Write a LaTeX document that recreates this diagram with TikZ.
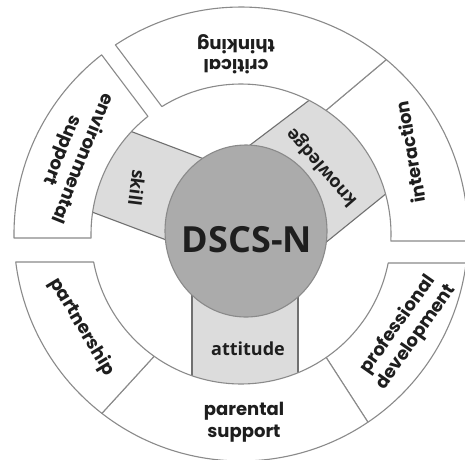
\documentclass[tikz,border=0pt]{standalone}
\usepackage{fontspec}
\setmainfont{Open Sans}
\newfontfamily\popfont{Poppins}
\usetikzlibrary{shapes.geometric}
\definecolor{lineg}{HTML}{8A8A8A}
\definecolor{darkline}{HTML}{707070}
\definecolor{spokeg}{HTML}{DCDCDC}
\definecolor{coreg}{HTML}{ABABAB}
\definecolor{txt}{HTML}{1E1E1E}
\tikzset{
  segbox/.style={draw=lineg, line width=1.1pt, fill=white, line join=round},
  spokebox/.style={draw=darkline, line width=1.1pt, fill=spokeg},
  corebox/.style={ellipse, draw=lineg, line width=1.1pt, fill=coreg, minimum width=162pt, minimum height=172pt, inner sep=0pt},
  outlabel/.style={font=\popfont\bfseries\fontsize{18}{22}\selectfont, align=center, text=txt, inner sep=0pt},
  spokelabel/.style={font=\bfseries\fontsize{18}{20}\selectfont, text=txt, inner sep=0pt},
  titlelabel/.style={font=\bfseries\fontsize{36}{40}\selectfont, text=txt, inner sep=0pt}
}
\newcommand\ringseg[4]{%
  \draw[segbox] ([shift={(#1:150)}]C) -- ([shift={(#2:227)}]C)
    arc[start angle=#2, end angle=#3, radius=227]
    -- ([shift={(#4:150)}]C)
    arc[start angle=#4, end angle=#1, radius=150] -- cycle;}
\begin{document}
\begin{tikzpicture}[x=1pt, y=1pt]
\useasboundingbox (0,0) rectangle (465,-459);
\fill[white] (0,0) rectangle (465,-459);
\coordinate (C) at (241,-234);
% spokes
\begin{scope}
  \clip (C) circle (150);
  \draw[spokebox] (114,-125) -- (228,-168) -- (193,-250) -- (76,-206) -- cycle;
  \draw[spokebox] (229,-161) -- (328,-86) -- (403,-180) -- (314,-252) -- cycle;
  \draw[spokebox] (192,-250) -- (298,-250) -- (298,-400) -- (192,-400) -- cycle;
\end{scope}
% core
\node[corebox] (core) at (246,-231) {};
\node[titlelabel] (title) at (247,-240) {DSCS-N};
% outer ring segments
\ringseg{55.5}{50.2}{-1.77}{-2.67}      % interaction
\ringseg{-11.15}{-7.34}{-56}{-55.4}     % professional development
\ringseg{-55.4}{-56}{-127.8}{-125.4}    % parental support
\ringseg{-125.4}{-127.8}{-172.91}{-169.24} % partnership
\ringseg{181.53}{181.01}{127.88}{128.34} % environmental support
\ringseg{121.84}{123.59}{50.2}{55.5}    % critical thinking
% labels
\node[outlabel, rotate=180, font=\popfont\bfseries\fontsize{18}{20}\selectfont] (crit) at (236,-54) {critical\\thinking};
\node[outlabel, rotate=100] (inter) at (410,-152) {interaction};
\node[outlabel, rotate=-112] (env) at (72,-154) {environmental\\support};
\node[outlabel, rotate=-59] (part) at (82,-327) {partnership};
\node[outlabel] (par) at (244,-422) {parental\\support};
\node[outlabel, rotate=55] (prof) at (407,-331) {professional\\development};
\node[spokelabel, rotate=-97] (skill) at (137,-188) {skill};
\node[spokelabel, rotate=131] (know) at (322,-167) {knowledge};
\node[spokelabel] (att) at (248,-349) {attitude};
\end{tikzpicture}
\end{document}
